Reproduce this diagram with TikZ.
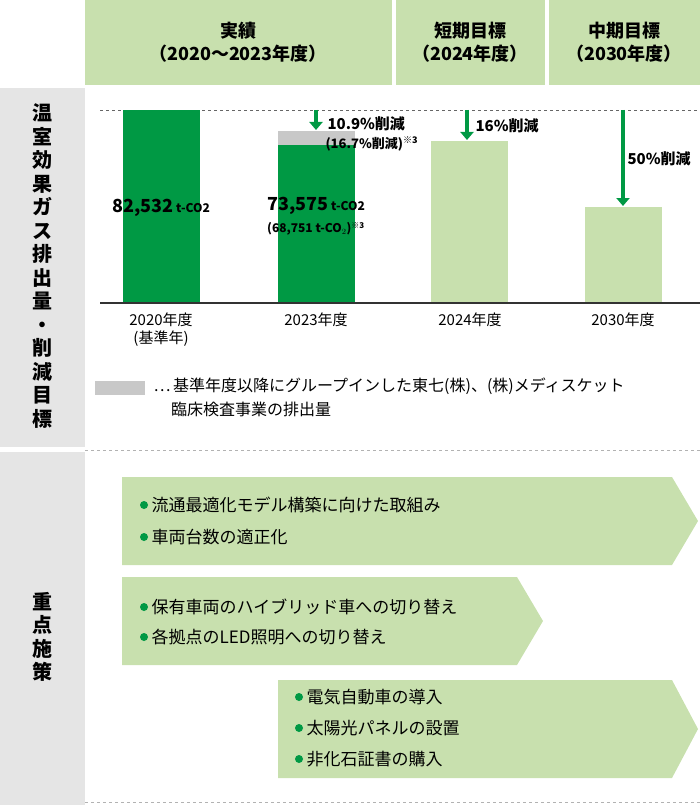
\documentclass[tikz,border=0pt]{standalone}
\usepackage{fontspec}
\setmainfont{Noto Sans CJK JP}
\usetikzlibrary{arrows.meta, positioning}
\definecolor{darkgreen}{HTML}{009944}
\definecolor{lightgreen}{HTML}{C8E0AE}
\definecolor{barltgray}{HTML}{C8C8C8}
\definecolor{colgray}{HTML}{E5E5E5}

\begin{document}
\begin{tikzpicture}[x=1pt, y=-1pt, font=\fontsize{16}{19}\selectfont,
    head/.style={fill=lightgreen, draw=none},
    headtext/.style={align=center, font=\fontsize{18}{23}\selectfont\bfseries},
    bar/.style={fill=darkgreen, draw=none},
    goalbar/.style={fill=lightgreen, draw=none},
    cut/.style={-{Triangle[length=8pt, width=13pt]}, draw=darkgreen, line width=4pt},
    yearlbl/.style={align=center, font=\fontsize{15}{18}\selectfont},
    measure/.style={fill=lightgreen, draw=none},
    item/.style={anchor=west, font=\fontsize{17}{20}\selectfont},
    dot/.style={circle, fill=darkgreen, inner sep=0pt, minimum size=8pt}]

    \useasboundingbox (0,0) rectangle (700,805);

    % header
    \fill[head] (85,0) rectangle (392,85);
    \fill[head] (396,0) rectangle (545,85);
    \fill[head] (549,0) rectangle (700,85);
    \node[headtext] (h1) at (238,42) {実績\\（2020～2023年度）};
    \node[headtext] (h2) at (470,42) {短期目標\\（2024年度）};
    \node[headtext] (h3) at (624,42) {中期目標\\（2030年度）};

    % left column
    \fill[colgray] (0,88) rectangle (85,447);
    \fill[colgray] (0,452) rectangle (85,805);
    \node[align=center, font=\fontsize{20}{23.5}\selectfont\bfseries] (t1) at (42,266)
        {温\\室\\効\\果\\ガ\\ス\\排\\出\\量\\・\\削\\減\\目\\標};
    \node[align=center, font=\fontsize{20}{23.5}\selectfont\bfseries] (t2) at (42,637)
        {重\\点\\施\\策};

    % chart
    \draw[dashed, gray!80!black, line width=0.8pt] (100,110) -- (700,110);
    \fill[bar] (123,110) rectangle (200,303);
    \fill[barltgray] (278,131) rectangle (355,145);
    \fill[bar] (278,145) rectangle (355,303);
    \fill[goalbar] (431,141) rectangle (508,303);
    \fill[goalbar] (585,207) rectangle (662,303);
    \draw[black!80, line width=1.2pt] (100,303) -- (700,303);

    \node[font=\fontsize{18}{21}\selectfont\bfseries] (v1) at (161,208) {82,532\,{\fontsize{12}{14}\selectfont t-CO2}};
    \node[font=\fontsize{18}{21}\selectfont\bfseries] (v2) at (316,206) {73,575\,{\fontsize{12}{14}\selectfont t-CO2}};
    \node[font=\fontsize{12}{14}\selectfont\bfseries] (v3) at (316,229) {(68,751 t-CO$_2$)\textsuperscript{※3}};

    \coordinate (a1) at (316,110);
    \coordinate (b1) at (316,130);
    \coordinate (a2) at (467,110);
    \coordinate (b2) at (467,140);
    \coordinate (a3) at (623,110);
    \coordinate (b3) at (623,206);
    \draw[cut] (a1) -- (b1);
    \draw[cut] (a2) -- (b2);
    \draw[cut] (a3) -- (b3);
    \node[anchor=west, font=\fontsize{15}{18}\selectfont\bfseries] (p1) at (324,124) {10.9\%削減};
    \node[anchor=west, font=\fontsize{13}{16}\selectfont\bfseries] (p1b) at (322,144) {(16.7\%削減)\textsuperscript{※3}};
    \node[anchor=west, font=\fontsize{15}{18}\selectfont\bfseries] (p2) at (472,126) {16\%削減};
    \node[anchor=west, font=\fontsize{15}{18}\selectfont\bfseries] (p3) at (624,159) {50\%削減};

    \node[yearlbl] (y1) at (161,330) {2020年度\\(基準年)};
    \node[yearlbl] (y2) at (316,320) {2023年度};
    \node[yearlbl] (y3) at (470,320) {2024年度};
    \node[yearlbl] (y4) at (623,320) {2030年度};

    % legend
    \fill[barltgray] (95,381) rectangle (145,395);
    \node[anchor=north west, align=left, font=\fontsize{16}{24}\selectfont] (lg) at (150,374)
        {…\,基準年度以降にグループインした東七(株)、(株)メディスケット\\
         \hspace{1.1em}臨床検査事業の排出量};

    \draw[dashed, gray!60, line width=0.8pt] (85,450) -- (700,450);
    \draw[dashed, gray!60, line width=0.8pt] (85,802) -- (700,802);

    % measures
    \fill[measure] (122,477) -- (672,477) -- (698,521) -- (672,565) -- (122,565) -- cycle;
    \fill[measure] (122,577) -- (517,577) -- (543,621) -- (517,665) -- (122,665) -- cycle;
    \fill[measure] (278,680) -- (672,680) -- (698,729) -- (672,778) -- (278,778) -- cycle;

    \node[dot] (d1) at (144,505) {};
    \node[item, right=0pt of d1] (m1) {流通最適化モデル構築に向けた取組み};
    \node[dot] (d2) at (144,537) {};
    \node[item, right=0pt of d2] (m2) {車両台数の適正化};
    \node[dot] (d3) at (144,607) {};
    \node[item, right=0pt of d3] (m3) {保有車両のハイブリッド車への切り替え};
    \node[dot] (d4) at (144,637) {};
    \node[item, right=0pt of d4] (m4) {各拠点のLED照明への切り替え};
    \node[dot] (d5) at (299,697) {};
    \node[item, right=0pt of d5] (m5) {電気自動車の導入};
    \node[dot] (d6) at (299,728) {};
    \node[item, right=0pt of d6] (m6) {太陽光パネルの設置};
    \node[dot] (d7) at (299,759) {};
    \node[item, right=0pt of d7] (m7) {非化石証書の購入};

\end{tikzpicture}
\end{document}
